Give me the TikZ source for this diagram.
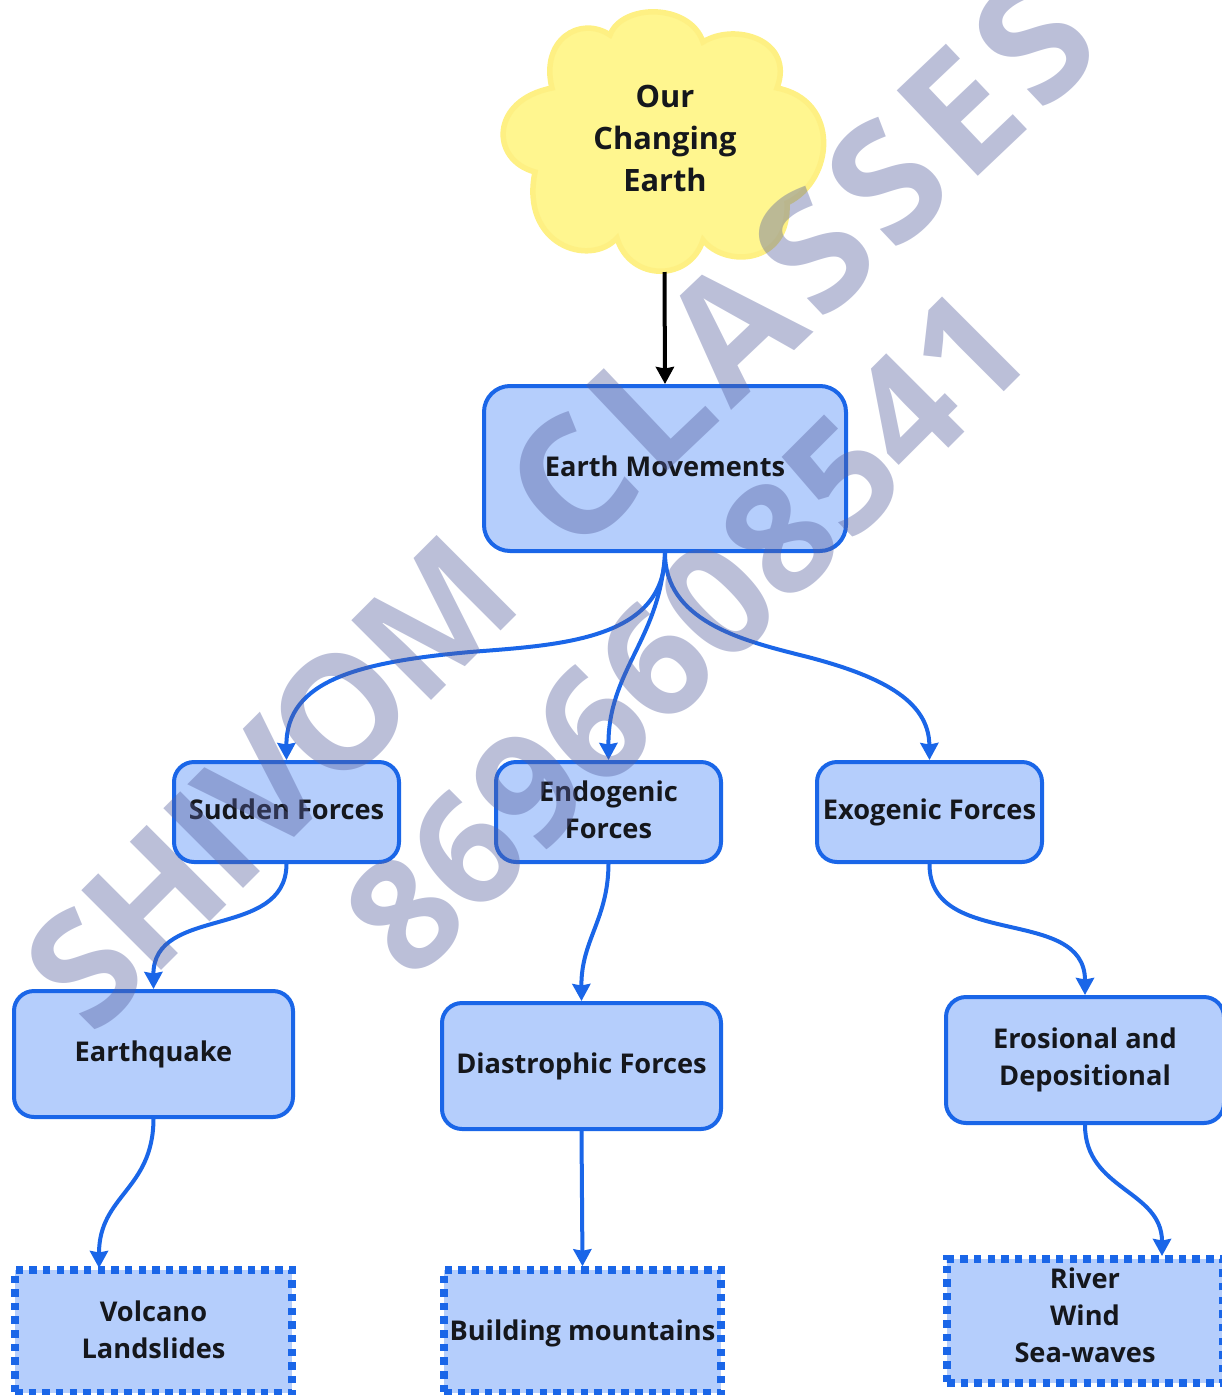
\documentclass[tikz,border=0pt]{standalone}
\usepackage{fontspec}
\setmainfont{Open Sans}
\usetikzlibrary{arrows.meta}
\definecolor{boxfill}{HTML}{B5CEFC}
\definecolor{boxline}{HTML}{1A66E8}
\definecolor{cloudfill}{HTML}{FFF68F}
\definecolor{cloudline}{HTML}{FEF083}
\definecolor{inktext}{HTML}{15171C}
\definecolor{wmcol}{RGB}{85,95,158}
\newcommand{\shiftup}[2]{\raisebox{#1}[\height][\depth]{\begin{tabular}{@{}c@{}}#2\end{tabular}}}
\tikzset{
  lbl/.style={font=\fontsize{27.2}{37}\selectfont\bfseries,text=inktext,align=center,inner sep=0pt},
  solidbox/.style={lbl,draw=boxline,fill=boxfill,line width=4pt,rounded corners=20pt},
  dotbox/.style={lbl,draw=boxline,fill=boxfill,line width=7.5pt,dash pattern=on 7.5pt off 6.15pt},
  flow/.style={draw=boxline,line width=4pt,-{Stealth[length=17pt,width=18pt,inset=1.5pt]}},
  mark text/.style={font=\fontsize{#1}{#1}\selectfont\bfseries,text=wmcol,text opacity=.4,inner sep=0pt}
}
\begin{document}
\begin{tikzpicture}[x=1pt,y=-1pt]
\useasboundingbox (0,0) rectangle (1222,1395);
% cloud
\draw[fill=cloudfill,draw=cloudline,line width=5.5pt]
 (610,35) .. controls (622,3) and (690,3) .. (703,42)
 .. controls (735,22) and (795,40) .. (777,88)
 .. controls (840,100) and (835,180) .. (787,203)
 .. controls (790,265) and (725,268) .. (703,240)
 .. controls (690,282) and (630,282) .. (617,238)
 .. controls (590,268) and (520,245) .. (535,172)
 .. controls (490,160) and (490,100) .. (552,88)
 .. controls (540,40) and (580,15) .. (610,35) -- cycle;
\node[lbl,font=\fontsize{30.8}{42}\selectfont\bfseries] (cloud) at (665,138) {Our\\Changing\\Earth};
\coordinate (cloudbottom) at (664.5,272);
% boxes
\node[solidbox,rounded corners=26pt,minimum width=362pt,minimum height=165pt] (em) at (665,468.5) {\shiftup{-1pt}{Earth Movements}};
\node[solidbox,minimum width=225pt,minimum height=100pt] (sf) at (286.5,812) {\shiftup{0pt}{Sudden Forces}};
\node[solidbox,minimum width=225pt,minimum height=100pt] (en) at (608.5,812) {\shiftup{-1pt}{Endogenic\\Forces}};
\node[solidbox,minimum width=225pt,minimum height=100pt] (ex) at (929.5,812) {Exogenic Forces};
\node[solidbox,minimum width=279pt,minimum height=126pt] (eq) at (153.5,1054) {Earthquake};
\node[solidbox,minimum width=279pt,minimum height=126pt] (di) at (581.5,1066) {Diastrophic Forces};
\node[solidbox,minimum width=278pt,minimum height=126pt] (er) at (1085,1060) {Erosional and\\Depositional};
\node[dotbox,minimum width=277pt,minimum height=123pt] (vo) at (153.5,1331.5) {\shiftup{-1pt}{Volcano\\Landslides}};
\node[dotbox,minimum width=277pt,minimum height=123pt] (bm) at (582.5,1331.5) {\shiftup{-2pt}{Building mountains}};
\node[dotbox,minimum width=276pt,minimum height=124pt] (ri) at (1085,1321) {\shiftup{3pt}{River\\Wind\\Sea-waves}};
\coordinate (voin) at (99,1268);
\coordinate (riin) at (1162,1256);
% connectors
\draw[line width=4pt,-{Stealth[length=17pt,width=18pt,inset=1.5pt]}] (cloudbottom) -- (em.north);
\draw[flow] (em.south) .. controls (665,640) and (560,645) .. (470,652) .. controls (360,662) and (286,680) .. (sf.north);
\draw[flow] (em.south) .. controls (660,640) and (608,670) .. (en.north);
\draw[flow] (em.south) .. controls (665,620) and (740,640) .. (800,655) .. controls (880,675) and (929,700) .. (ex.north);
\draw[flow] (sf.south) .. controls (286,940) and (153,905) .. (eq.north);
\draw[flow] (en.south) .. controls (608,920) and (581,940) .. (di.north);
\draw[flow] (ex.south) .. controls (929,950) and (1085,905) .. (er.north);
\draw[flow] (eq.south) .. controls (153,1190) and (99,1195) .. (voin);
\draw[flow] (di.south) -- (bm.north);
\draw[flow] (er.south) .. controls (1085,1190) and (1162,1190) .. (riin);
% watermark
\node[mark text=158,rotate=45] (wmone) at (270,782) {\addfontfeature{LetterSpace=-3}SHIVOM};
\node[mark text=165,rotate=43.5] (wmtwo) at (800,264) {\addfontfeature{LetterSpace=6}CLASSES};
\node[mark text=155,rotate=45] (wmthree) at (686,632) {8696608541};
\end{tikzpicture}
\end{document}
